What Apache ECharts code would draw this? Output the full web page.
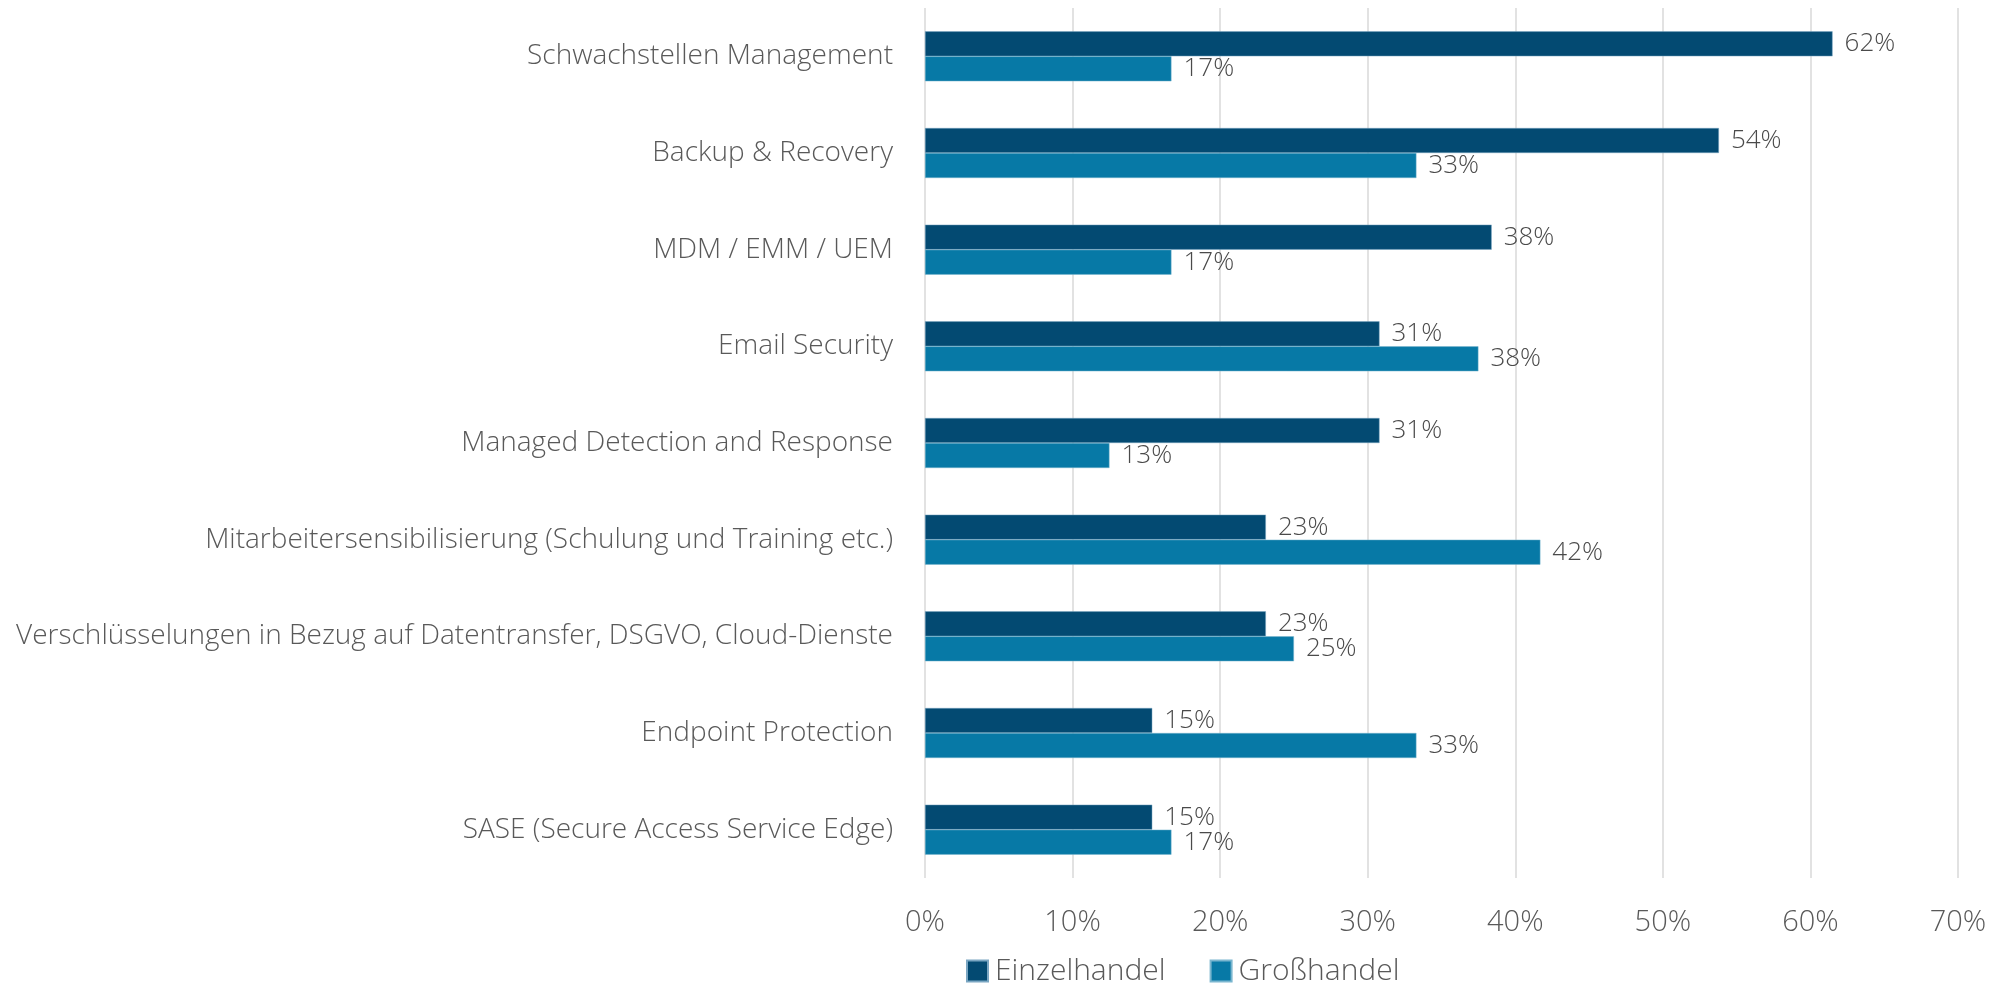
<!DOCTYPE html>
<html>
<head>
<meta charset="utf-8">
<script src="https://cdn.jsdelivr.net/npm/echarts@6/dist/echarts.min.js"></script>
<style>
  html, body { margin: 0; padding: 0; background: #fff; }
  #main { width: 2007px; height: 984px; }
</style>
</head>
<body>
<div id="main"></div>
<script>
// Kategorien (von oben nach unten)
var categories = [
    'Schwachstellen Management',
    'Backup & Recovery',
    'MDM / EMM / UEM',
    'Email Security',
    'Managed Detection and Response',
    'Mitarbeitersensibilisierung (Schulung und Training etc.)',
    'Verschlüsselungen in Bezug auf Datentransfer, DSGVO, Cloud-Dienste',
    'Endpoint Protection',
    'SASE (Secure Access Service Edge)'
];
// Werte in %
var einzelhandel = [61.5, 53.8, 38.4, 30.8, 30.8, 23.1, 23.1, 15.4, 15.4];
var grosshandel  = [16.7, 33.3, 16.7, 37.5, 12.5, 41.7, 25.0, 33.3, 16.7];
var seriesNames = ['Einzelhandel', 'Großhandel'];

var fontName = '"Open Sans", "Noto Sans", sans-serif';
var textColor = '#595959';

var myChart = echarts.init(document.getElementById('main'));

var labelCfg = {
    show: true,
    position: 'right',
    distance: 12,
    color: '#4a4a4a',
    fontFamily: fontName,
    fontWeight: 300,
    fontSize: 26,
    formatter: function (p) { return Math.round(p.value) + '%'; }
};

var option = {
    animation: false,
    textStyle: { fontFamily: fontName },
    grid: { left: 925, right: 49, top: 8, bottom: 106, containLabel: false },
    legend: {
        data: seriesNames,
        left: 961,
        top: 951,
        itemWidth: 21,
        itemHeight: 21,
        itemGap: 44,
        icon: 'rect',
        textStyle: { color: textColor, fontSize: 30, fontWeight: 300, fontFamily: fontName, padding: [0, 0, 0, 2] }
    },
    xAxis: {
        type: 'value',
        min: 0,
        max: 70,
        interval: 10,
        axisLine: { show: false },
        axisTick: { show: false },
        splitLine: { lineStyle: { color: '#d9d9d9', width: 1.5 } },
        axisLabel: {
            formatter: '{value}%',
            color: textColor,
            fontSize: 29,
            fontWeight: 300,
            fontFamily: fontName,
            margin: 30
        }
    },
    yAxis: {
        type: 'category',
        inverse: true,
        data: categories,
        axisLine: { show: false },
        axisTick: { show: false },
        axisLabel: {
            color: textColor,
            fontSize: 28,
            fontWeight: 300,
            fontFamily: fontName,
            margin: 32
        }
    },
    series: [
        {
            name: seriesNames[0],
            type: 'bar',
            data: einzelhandel,
            barWidth: 25,
            barGap: '0%',
            itemStyle: { color: '#034a72', borderColor: '#7aa6c2', borderWidth: 0.5 },
            label: labelCfg
        },
        {
            name: seriesNames[1],
            type: 'bar',
            data: grosshandel,
            barWidth: 25,
            barGap: '0%',
            itemStyle: { color: '#0779a6', borderColor: '#7ab6cf', borderWidth: 0.5 },
            label: labelCfg
        }
    ]
};

myChart.setOption(option);
</script>
</body>
</html>
